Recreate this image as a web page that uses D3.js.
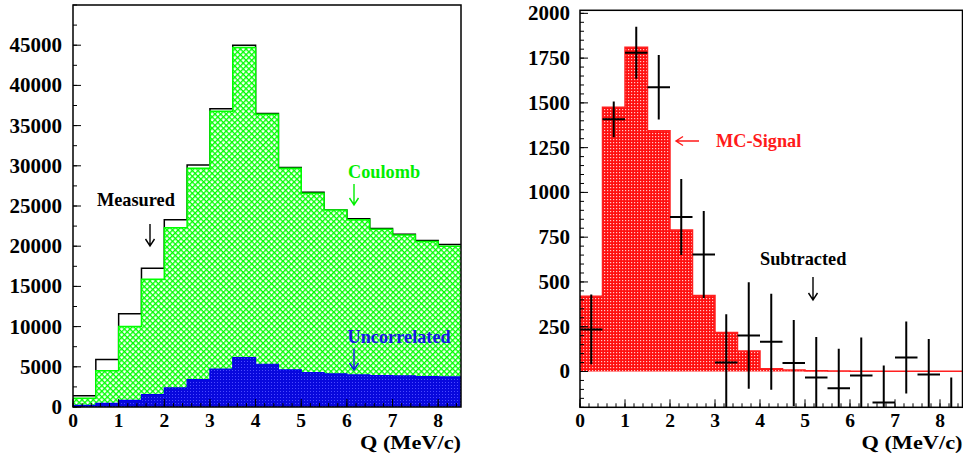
<!DOCTYPE html>
<html><head><meta charset="utf-8">
<script src="https://cdn.jsdelivr.net/npm/d3@7"></script>
<style>
html,body{margin:0;padding:0;background:#fff;}
svg{display:block;}
text{font-family:"Liberation Serif","Times New Roman",serif;font-weight:bold;}
</style></head>
<body>
<svg id="c" width="963" height="466"></svg>
<script>
// ---- data ----
const binLow = [0,0.5,1,1.5,2,2.5,3,3.5,4,4.5,5,5.5,6,6.5,7,7.5,8];
const binWidth = 0.5;
const measured = [1400,5900,11600,17250,23300,30100,37100,45000,36500,29800,26700,24500,23400,22200,21500,20700,20200];
const coulomb = [1100,4500,10000,15900,22300,29700,36800,44700,36400,29700,26600,24500,23300,22100,21400,20600,20000];
const uncorrelated = [200,450,830,1530,2370,3400,4700,6150,5320,4610,4280,4110,3990,3900,3870,3780,3740];
const mcSignal = [420,1475,1810,1345,790,424,218,115,15,8,4,3,2,2,1,1,1];
const subtracted = [235,1408,1780,1587,863,653,50,201,166,47,-33,-93,-22,-173,78,-17,-230];
const subErr = [195,100,145,180,212,243,270,298,268,241,225,220,212,206,201,198,197];
const xTicks = [0,1,2,3,4,5,6,7,8];
const yTicksLeft = [0,5000,10000,15000,20000,25000,30000,35000,40000,45000];
const yTicksRight = [0,250,500,750,1000,1250,1500,1750,2000];
const xLabel = "Q (MeV/c)";

const svg = d3.select("#c");
const defs = svg.append("defs");

// patterns
const pg = defs.append("pattern").attr("id","pGreen").attr("patternUnits","userSpaceOnUse")
  .attr("width",4).attr("height",4).attr("patternTransform","rotate(45)");
pg.append("rect").attr("width",4).attr("height",4).attr("fill","#fff");
pg.append("rect").attr("width",4).attr("height",1.35).attr("fill","#00ff00");
pg.append("rect").attr("width",1.35).attr("height",4).attr("fill","#00ff00");

const pb = defs.append("pattern").attr("id","pBlue").attr("patternUnits","userSpaceOnUse")
  .attr("width",3).attr("height",3);
pb.append("rect").attr("width",3).attr("height",3).attr("fill","#0808dd");
pb.append("rect").attr("x",1).attr("y",1).attr("width",1).attr("height",1).attr("fill","#4a4aff");

const pr = defs.append("pattern").attr("id","pRed").attr("patternUnits","userSpaceOnUse")
  .attr("width",3).attr("height",3);
pr.append("rect").attr("width",3).attr("height",3).attr("fill","#ff1010");
pr.append("rect").attr("x",1).attr("y",1).attr("width",1.2).attr("height",1.2).attr("fill","#ffc8c8");

function stepPoints(vals){
  const pts = binLow.map((b,i)=>[b, vals[i]]);
  pts.push([binLow[binLow.length-1]+binWidth, vals[vals.length-1]]);
  return pts;
}

function drawAxes(g, x, y, yTicks, yMinor, top, bottom, left, right, labelX){
  const xMinor = d3.range(0, 8.5+1e-9, 0.2);
  g.selectAll(null).data(xMinor).join("line")
    .attr("x1",d=>x(d)).attr("x2",d=>x(d)).attr("y1",bottom).attr("y2",bottom-4)
    .attr("stroke","#000").attr("stroke-width",1);
  g.selectAll(null).data(xTicks).join("line")
    .attr("x1",d=>x(d)).attr("x2",d=>x(d)).attr("y1",bottom).attr("y2",bottom-8)
    .attr("stroke","#000").attr("stroke-width",1);
  g.selectAll(null).data(xTicks).join("text")
    .attr("x",d=>x(d)).attr("y",426.5).attr("text-anchor","middle")
    .attr("font-size",19.5).text(d=>d);
  g.selectAll(null).data(yMinor).join("line")
    .attr("x1",left).attr("x2",left+4).attr("y1",d=>y(d)).attr("y2",d=>y(d))
    .attr("stroke","#000").attr("stroke-width",1);
  g.selectAll(null).data(yTicks).join("line")
    .attr("x1",left).attr("x2",left+8).attr("y1",d=>y(d)).attr("y2",d=>y(d))
    .attr("stroke","#000").attr("stroke-width",1);
  g.selectAll(null).data(yTicks).join("text")
    .attr("x",labelX).attr("y",d=>y(d)+7).attr("text-anchor","end")
    .attr("font-size",21).text(d=>d);
  g.append("rect").attr("x",left).attr("y",top).attr("width",right-left).attr("height",bottom-top)
    .attr("fill","none").attr("stroke","#000").attr("stroke-width",1.5);
  g.append("text").attr("x",right).attr("y",449).attr("text-anchor","end")
    .attr("font-size",19).attr("textLength",101).attr("lengthAdjust","spacingAndGlyphs").text(xLabel);
}

function arrowDown(g, x, y1, y2, color){
  g.append("path").attr("d",`M${x},${y1}L${x},${y2}M${x-4.5},${y2-7}L${x},${y2}L${x+4.5},${y2-7}`)
    .attr("fill","none").attr("stroke",color).attr("stroke-width",1.4);
}
function arrowLeft(g, x1, x2, y, color){
  g.append("path").attr("d",`M${x2},${y}L${x1},${y}M${x1+7},${y-4.5}L${x1},${y}L${x1+7},${y+4.5}`)
    .attr("fill","none").attr("stroke",color).attr("stroke-width",1.4);
}

// ---- left panel ----
const L = {left:73, right:461, top:5, bottom:407};
const xL = d3.scaleLinear([0,8.5],[L.left,L.right]);
const yL = d3.scaleLinear([0,50000],[L.bottom,L.top]);
const gL = svg.append("g");
const areaL = d3.area().curve(d3.curveStepAfter).x(d=>xL(d[0])).y0(yL(0)).y1(d=>yL(d[1]));
const lineL = d3.line().curve(d3.curveStepAfter).x(d=>xL(d[0])).y(d=>yL(d[1]));

gL.append("path").attr("d",lineL(stepPoints(measured))).attr("fill","none").attr("stroke","#000").attr("stroke-width",1.5);
gL.append("path").attr("d",areaL(stepPoints(coulomb))).attr("fill","url(#pGreen)");
gL.append("path").attr("d",lineL(stepPoints(coulomb))).attr("fill","none").attr("stroke","#00ff00").attr("stroke-width",1.5);
gL.append("path").attr("d",areaL(stepPoints(uncorrelated))).attr("fill","url(#pBlue)");
gL.append("path").attr("d",lineL(stepPoints(uncorrelated))).attr("fill","none").attr("stroke","#0000ee").attr("stroke-width",1.2);

drawAxes(gL, xL, yL, yTicksLeft, d3.range(0,50001,2500), L.top, L.bottom, L.left, L.right, 62);

gL.append("text").attr("x",97).attr("y",205.7).attr("font-size",18.3).attr("fill","#000").text("Measured");
arrowDown(gL, 150, 224, 246, "#000");
gL.append("text").attr("x",348).attr("y",178).attr("font-size",18.3).attr("fill","#00ee00").text("Coulomb");
arrowDown(gL, 354, 184, 205, "#00ee00");
gL.append("text").attr("x",347.5).attr("y",342.7).attr("font-size",18.3).attr("fill","#1515e6").text("Uncorrelated");
arrowDown(gL, 354, 348.5, 370, "#1515e6");

// ---- right panel ----
const R = {left:580, right:962.5, top:10.3, bottom:407.3};
const xR = d3.scaleLinear([0,8.5],[R.left,R.right]);
const yR = d3.scaleLinear([-200,2017],[R.bottom,R.top]);
const gR = svg.append("g");
defs.append("clipPath").attr("id","clipR").append("rect")
  .attr("x",R.left).attr("y",R.top).attr("width",R.right-R.left).attr("height",R.bottom-R.top);
const gRd = gR.append("g").attr("clip-path","url(#clipR)");
const areaR = d3.area().curve(d3.curveStepAfter).x(d=>xR(d[0])).y0(yR(0)).y1(d=>yR(d[1]));
const lineR = d3.line().curve(d3.curveStepAfter).x(d=>xR(d[0])).y(d=>yR(d[1]));
gRd.append("path").attr("d",areaR(stepPoints(mcSignal))).attr("fill","url(#pRed)");
gRd.append("path").attr("d",lineR(stepPoints(mcSignal))).attr("fill","none").attr("stroke","#ff2020").attr("stroke-width",1.5);

const pts = binLow.map((b,i)=>({xc:b+binWidth/2, v:subtracted[i], e:subErr[i]}));
gRd.selectAll(null).data(pts).join("line")
  .attr("x1",d=>xR(d.xc-binWidth/2)).attr("x2",d=>xR(d.xc+binWidth/2))
  .attr("y1",d=>yR(d.v)).attr("y2",d=>yR(d.v)).attr("stroke","#000").attr("stroke-width",2);
gRd.selectAll(null).data(pts).join("line")
  .attr("x1",d=>xR(d.xc)).attr("x2",d=>xR(d.xc))
  .attr("y1",d=>yR(d.v-d.e)).attr("y2",d=>yR(d.v+d.e)).attr("stroke","#000").attr("stroke-width",2);

drawAxes(gR, xR, yR, yTicksRight, d3.range(-200,2001,50), R.top, R.bottom, R.left, R.right, 570);

gR.append("text").attr("x",716).attr("y",146.7).attr("font-size",18.3).attr("fill","#ff1a1a").text("MC-Signal");
arrowLeft(gR, 676, 699, 141, "#ff1a1a");
gR.append("text").attr("x",760).attr("y",265).attr("font-size",18.3).attr("fill","#000").text("Subtracted");
arrowDown(gR, 813, 277, 300, "#000");
</script>
</body></html>
